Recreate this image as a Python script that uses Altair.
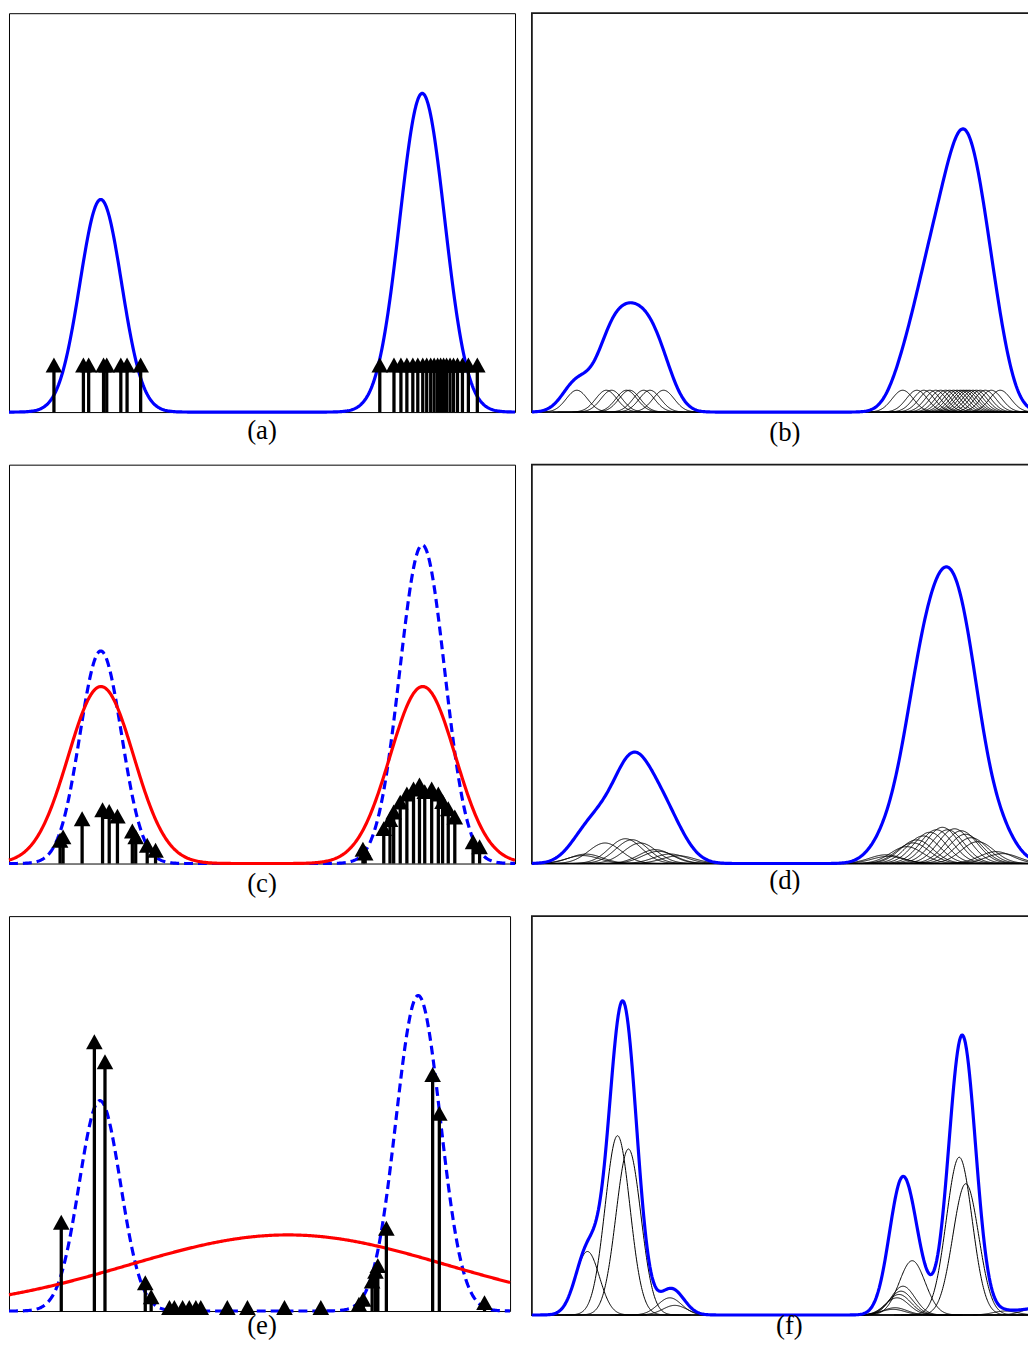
import numpy as np
import pandas as pd
import altair as alt

# ---------------- values ----------------
# x: pixels from the panel's left edge, heights: pixels above the panel's bottom edge
# true two-mode density (used in a, c, e): centres, widths, peak heights (fraction of panel height)
TRUE_MU = [92.5, 416.5]
TRUE_SIGMA = [21.0, 22.6]
TRUE_PEAK = [0.533, 0.799]

# (a) sample positions, all arrows of equal height
A_X = [45.3, 75.0, 80.3, 95.3, 98.5, 112.7, 119.0, 132.7,
       373.7, 388.0, 395.0, 401.0, 407.0, 412.0, 417.0, 421.0, 425.0, 428.5,
       432.0, 435.0, 438.0, 441.0, 444.5, 448.0, 452.0, 457.0, 463.0, 472.0]
A_TIP = 55.0

# (b) kernel components on the samples of (a)
B_SIGMA = 10.7
B_BLUE_SIGMA = 14.0
B_COMP_H = 22.0
B_PEAK = 285.4

# (c) weighted samples and the red two-mode fit
C_X = [51.5, 54.5, 73.7, 94.3, 101.0, 109.3, 124.3, 127.7, 139.3, 147.7,
       356.7, 359.0, 377.7, 384.0, 387.7, 394.3, 401.0, 407.7, 413.7, 419.0,
       426.0, 432.7, 437.0, 442.7, 449.3, 467.7, 474.3]
C_H = [31.0, 34.4, 52.7, 61.7, 60.0, 55.3, 40.4, 34.4, 26.0, 21.0,
       22.0, 18.0, 42.7, 52.0, 59.4, 69.4, 77.7, 82.7, 86.7, 80.0,
       82.7, 77.7, 70.0, 62.7, 54.4, 29.4, 24.4]
C_RED_MU = [92.7, 417.0]
C_RED_SIGMA = 33.0
C_RED_PEAK = 178.4

# (d) kernel components centred on the samples of (c)
D_H = [8.0, 9.5, 20.7, 25.0, 24.0, 20.7, 14.0, 12.3, 9.6, 7.8,
       8.8, 7.2, 17.0, 20.8, 23.8, 27.8, 31.5, 34.0, 36.5, 34.0,
       35.0, 33.0, 29.5, 26.0, 22.0, 12.0, 10.0]
D_SIGMA = 16.5
D_PEAK = 299.0

# (e) weighted samples and the broad red fit
E_X = [53.2, 86.9, 97.7, 138.7, 144.7,
       163.3, 168.3, 176.7, 183.5, 190.2, 195.2, 222.2, 242.7, 280.4, 317.4,
       356.2, 360.5, 369.6, 373.0, 375.4, 384.1, 431.2, 438.0, 484.0]
E_H = [97.0, 279.0, 258.7, 36.0, 22.0,
       11.0, 11.0, 11.0, 11.0, 11.0, 11.0, 11.0, 11.0, 11.0, 11.0,
       14.3, 19.3, 37.7, 47.7, 53.3, 91.0, 246.0, 206.7, 16.0]
E_RED_MU = 283.8
E_RED_SIGMA = 161.6
E_RED_PEAK = 76.7

# (f) adaptive components: centre, height, width
F_MU = [56.0, 86.3, 97.3, 139.0, 144.0,
        364.0, 366.0, 368.0, 370.0, 372.0, 374.0, 383.3,
        430.7, 437.3, 477.0, 505.0]
F_H = [64.0, 180.7, 167.3, 17.3, 9.7,
       5.7, 7.3, 17.3, 20.7, 24.0, 29.0, 54.7,
       159.0, 132.3, 4.0, 6.0]
F_S = [12.0, 12.5, 12.5, 12.0, 12.0,
       12.0, 12.0, 12.0, 12.0, 12.0, 12.0, 13.0,
       13.0, 13.0, 12.0, 12.0]

LABELS = ["(a)", "(b)", "(c)", "(d)", "(e)", "(f)"]

# ---------------- styling / geometry ----------------
FONT = "Liberation Serif"
BLUE = "#0000ff"
RED = "#ff0000"
HEAD = "M0,0L-1,1.8L1,1.8Z"
WL, WE, WR = 510, 505, 501
H = 402
LW = 3.2


def gauss(x, mu, s, h):
    return h * np.exp(-0.5 * ((x - mu) / s) ** 2)


def grid(w):
    return np.arange(0.0, w + 0.001, 1.0)


def curve_df(xs, ys, name):
    return pd.DataFrame({"x": xs, "y": ys, "s": name})


def comp_df(w, mus, hs, ss):
    frames = []
    for i, (m, h, s) in enumerate(zip(mus, hs, ss)):
        x = np.arange(np.floor(m - 5 * s), np.ceil(m + 5 * s) + 0.001, 0.5)
        x = x[(x >= 0) & (x <= w)]
        frames.append(pd.DataFrame({"x": x, "y": gauss(x, m, s, h), "s": "k%d" % i}))
    return pd.concat(frames, ignore_index=True)


def arrow_df(xs, hs):
    hs = np.asarray(hs, dtype=float)
    return pd.DataFrame({"x": xs, "h": hs, "base": 0.0, "top": np.maximum(hs - 6.0, 0.0)})


def xenc(w, axis=None):
    return alt.X("x:Q", scale=alt.Scale(domain=[0, w], nice=False, zero=False), axis=axis)


def yenc(field, h, axis=None):
    return alt.Y(field + ":Q", scale=alt.Scale(domain=[0, h], nice=False, zero=False), axis=axis)


BOTTOM_AXIS = alt.Axis(orient="bottom", ticks=False, labels=False, grid=False, domain=True,
                       domainColor="black", domainWidth=2, title=None)


def line_layer(df, w, h, color, sw, xaxis=None, dash=None):
    kw = dict(color=color, strokeWidth=sw, strokeJoin="round")
    if dash:
        kw["strokeDash"] = dash
    return alt.Chart(df).mark_line(**kw).encode(
        x=xenc(w, xaxis), y=yenc("y", h), detail="s:N")


def arrow_layers(df, w, h):
    shaft = alt.Chart(df).mark_rule(color="black", strokeWidth=3.3).encode(
        x=xenc(w), y=yenc("base", h), y2="top:Q")
    head = alt.Chart(df).mark_point(shape=HEAD, size=280, filled=True, color="black",
                                    opacity=1, strokeWidth=0).encode(
        x=xenc(w), y=yenc("h", h))
    return [shaft, head]


def label_layer(text, cx, below, h):
    return alt.Chart(pd.DataFrame({"label": [text]})).mark_text(
        font=FONT, fontSize=27, color="black", align="center", baseline="alphabetic"
    ).encode(text="label:N", x=alt.value(cx), y=alt.value(h + below))


def true_density(w, h):
    x = grid(w)
    y = sum(gauss(x, m, s, p * h) for m, s, p in zip(TRUE_MU, TRUE_SIGMA, TRUE_PEAK))
    return curve_df(x, y, "true")


LEFT_VIEW = alt.ViewBackground(stroke="black", strokeWidth=1)
RIGHT_VIEW = alt.ViewBackground(stroke="#1a1a1a", strokeWidth=1.8)

# ---------------- (a) ----------------
pa = alt.layer(
    line_layer(true_density(WL, H), WL, H, BLUE, LW),
    *arrow_layers(arrow_df(A_X, [A_TIP] * len(A_X)), WL, H),
    label_layer(LABELS[0], 255, 27, H),
).properties(width=WL, height=H, view=LEFT_VIEW)

# ---------------- (b) ----------------
xb = grid(WR)
b_sum = sum(gauss(xb, m, B_BLUE_SIGMA, 1.0) for m in A_X)
b_blue = curve_df(xb, b_sum * B_PEAK / b_sum.max(), "blue")
b_comp = comp_df(WR, A_X, [B_COMP_H] * len(A_X), [B_SIGMA] * len(A_X))
pb = alt.layer(
    line_layer(b_comp, WR, H, "black", 1.0, xaxis=BOTTOM_AXIS),
    line_layer(b_blue, WR, H, BLUE, LW),
    label_layer(LABELS[1], 255, 29, H),
).properties(width=WR, height=H, view=RIGHT_VIEW)

# ---------------- (c) ----------------
xc = grid(WL)
c_red = curve_df(xc, sum(gauss(xc, m, C_RED_SIGMA, C_RED_PEAK) for m in C_RED_MU), "red")
pc = alt.layer(
    line_layer(true_density(WL, H), WL, H, BLUE, LW, dash=[9, 5]),
    line_layer(c_red, WL, H, RED, LW),
    *arrow_layers(arrow_df(C_X, C_H), WL, H),
    label_layer(LABELS[2], 255, 29, H),
).properties(width=WL, height=H, view=LEFT_VIEW)

# ---------------- (d) ----------------
xd = grid(WR)
d_sum = sum(gauss(xd, m, D_SIGMA, hh) for m, hh in zip(C_X, D_H))
d_blue = curve_df(xd, d_sum * D_PEAK / d_sum.max(), "blue")
d_comp = comp_df(WR, C_X, D_H, [D_SIGMA] * len(C_X))
pd_ = alt.layer(
    line_layer(d_comp, WR, H, "black", 1.0, xaxis=BOTTOM_AXIS),
    line_layer(d_blue, WR, H, BLUE, LW),
    label_layer(LABELS[3], 255, 26, H),
).properties(width=WR, height=H, view=RIGHT_VIEW)

# ---------------- (e) ----------------
HE = 398
xe = grid(WL)
e_red = curve_df(xe, gauss(xe, E_RED_MU, E_RED_SIGMA, E_RED_PEAK), "red")
pe = alt.layer(
    line_layer(true_density(WL, HE), WL, HE, BLUE, LW, dash=[9, 5]),
    line_layer(e_red, WL, HE, RED, LW),
    *arrow_layers(arrow_df(E_X, E_H), WL, HE),
    label_layer(LABELS[4], 255, 23, HE),
).properties(width=WE, height=HE, view=LEFT_VIEW)

# ---------------- (f) ----------------
xf = grid(WR)
f_blue = curve_df(xf, sum(gauss(xf, m, s, hh) for m, hh, s in zip(F_MU, F_H, F_S)), "blue")
f_comp = comp_df(WR, F_MU, F_H, F_S)
pf = alt.layer(
    line_layer(f_comp, WR, H, "black", 1.0, xaxis=BOTTOM_AXIS),
    line_layer(f_blue, WR, H, BLUE, LW),
    label_layer(LABELS[5], 259.5, 19, H),
).properties(width=WR, height=H, view=RIGHT_VIEW)

chart = alt.concat(pa, pb, pc, pd_, pe, pf, columns=2,
                   spacing={"row": 53, "column": 17}, bounds="flush", align="each").properties(
    padding={"left": -2, "top": -1, "right": -4, "bottom": 0}
).configure_view(stroke="transparent")

chart.save("out.html", embed_options={"renderer": "svg", "actions": False})
